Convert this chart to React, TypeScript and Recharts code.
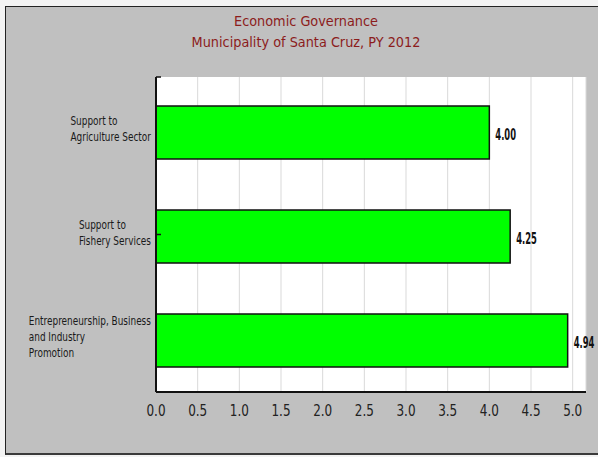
import React from 'react';
import { BarChart, Bar, XAxis, YAxis, CartesianGrid, LabelList } from 'recharts';

const categories = [
  'Support to\nAgriculture Sector',
  'Support to\nFishery Services',
  'Entrepreneurship, Business\nand Industry\nPromotion',
];
const scores = [4.0, 4.25, 4.94];
const majorTicks = [0, 0.5, 1, 1.5, 2, 2.5, 3, 3.5, 4, 4.5, 5];
const minorTicks = [
  0.1, 0.2, 0.3, 0.4, 0.5, 0.6, 0.7, 0.8, 0.9, 1.0,
  1.1, 1.2, 1.3, 1.4, 1.5, 1.6, 1.7, 1.8, 1.9, 2.0,
  2.1, 2.2, 2.3, 2.4, 2.5, 2.6, 2.7, 2.8, 2.9, 3.0,
  3.1, 3.2, 3.3, 3.4, 3.5, 3.6, 3.7, 3.8, 3.9, 4.0,
  4.1, 4.2, 4.3, 4.4, 4.5, 4.6, 4.7, 4.8, 4.9, 5.0, 5.1,
];
const bandEdges = [0, 1, 2, 3];
const titleLines = ['Economic Governance', 'Municipality of Santa Cruz, PY 2012'];

const data = categories.map((name, i) => ({ name, value: scores[i] }));

const FONT = '"DejaVu Sans", Verdana, sans-serif';
let ctx: CanvasRenderingContext2D | null = null;
function measure(s: string, font: string): number {
  if (!ctx && typeof document !== 'undefined') {
    ctx = document.createElement('canvas').getContext('2d');
  }
  if (!ctx) return s.length * 6;
  ctx.font = font;
  return ctx.measureText(s).width;
}

const EmptyTick = () => <g />;

const CatTick = (props: any) => {
  const { x, y, payload } = props;
  const lines = String(payload.value).split('\n');
  const fs = 12;
  const sx = 0.743;
  const lh = 15.6;
  const w = Math.max(...lines.map((l) => measure(l, `${fs}px "DejaVu Sans"`))) * sx;
  const left = x - w;
  return (
    <g>
      {lines.map((l, i) => (
        <text
          key={i}
          transform={`translate(${left},${y + (i - (lines.length - 1) / 2) * lh + 1}) scale(${sx},1)`}
          fontFamily={FONT}
          fontSize={fs}
          fill="#1a1a1a"
        >
          {l}
        </text>
      ))}
    </g>
  );
};

const XTick = (props: any) => {
  const { x, y, payload } = props;
  return (
    <text
      transform={`translate(${x},${y + 24}) scale(0.75,1)`}
      textAnchor="middle"
      fontFamily={FONT}
      fontSize={16}
      fill="#222"
    >
      {Number(payload.value).toFixed(1)}
    </text>
  );
};

const ValueLabel = (props: any) => {
  const { x, y, width, height, value } = props;
  const cx = Number(x) + Number(width) + 6;
  const cy = Number(y) + Number(height) / 2 + 7.5;
  return (
    <text
      transform={`translate(${cx},${cy}) scale(0.56,1)`}
      fontFamily={FONT}
      fontWeight="bold"
      fontSize={15}
      fill="#111"
    >
      {Number(value).toFixed(2)}
    </text>
  );
};

export default function App() {
  return (
    <div style={{ position: 'absolute', left: 0, top: 0, width: 598, height: 457, background: '#f3f3f3', overflow: 'hidden' }}>
      <div
        style={{
          position: 'absolute',
          left: 5,
          top: 6,
          width: 610,
          height: 449,
          background: '#c0c0c0',
          borderLeft: '1.5px solid #222',
          borderTop: '1.5px solid #222',
          borderBottom: '2.5px solid #3a3a3a',
          boxSizing: 'border-box',
        }}
      />
      <svg width={598} height={60} style={{ position: 'absolute', left: 0, top: 0 }}>
        {titleLines.map((t, i) => (
          <text
            key={i}
            transform={`translate(306,${26.3 + i * 21}) scale(0.92,1)`}
            textAnchor="middle"
            fontFamily={FONT}
            fontSize={14}
            fill="#8c1c1c"
          >
            {t}
          </text>
        ))}
      </svg>
      <div style={{ position: 'absolute', left: 0, top: 0 }}>
        <BarChart
          width={598}
          height={457}
          data={data}
          layout="vertical"
          margin={{ top: 77, right: 12, bottom: 0, left: 0 }}
          barSize={53}
        >
          <CartesianGrid horizontal={false} stroke="#d9d9d9" fill="#ffffff" />
          <XAxis
            type="number"
            dataKey="value"
            domain={[0, 5.16]}
            ticks={majorTicks}
            interval={0}
            tickLine={false}
            tickSize={0}
            tickMargin={0}
            axisLine={{ stroke: '#111', strokeWidth: 2 }}
            tick={<XTick />}
            height={65}
          />
          <XAxis
            xAxisId="minor"
            type="number"
            domain={[0, 5.16]}
            ticks={minorTicks}
            interval={0}
            mirror
            height={10}
            tick={EmptyTick}
            axisLine={false}
            tickLine={{ stroke: '#222' }}
            tickSize={3}
          />
          <XAxis
            xAxisId="major"
            type="number"
            domain={[0, 5.16]}
            ticks={majorTicks}
            interval={0}
            mirror
            height={10}
            tick={EmptyTick}
            axisLine={false}
            tickLine={{ stroke: '#222' }}
            tickSize={7}
          />
          <YAxis
            type="category"
            dataKey="name"
            width={156}
            tickLine={false}
            tickSize={0}
            tickMargin={5}
            axisLine={{ stroke: '#111', strokeWidth: 2 }}
            tick={<CatTick />}
            padding={{ top: 3, bottom: 0 }}
            interval={0}
          />
          <YAxis
            yAxisId="edges"
            type="number"
            domain={[0, 3]}
            ticks={bandEdges}
            interval={0}
            mirror
            width={10}
            tick={EmptyTick}
            axisLine={false}
            tickLine={{ stroke: '#111', strokeWidth: 1.5 }}
            tickSize={5}
          />
          <Bar dataKey="value" fill="#00ff00" stroke="#111" strokeWidth={1.5} isAnimationActive={false}>
            <LabelList dataKey="value" content={<ValueLabel />} />
          </Bar>
        </BarChart>
      </div>
    </div>
  );
}
